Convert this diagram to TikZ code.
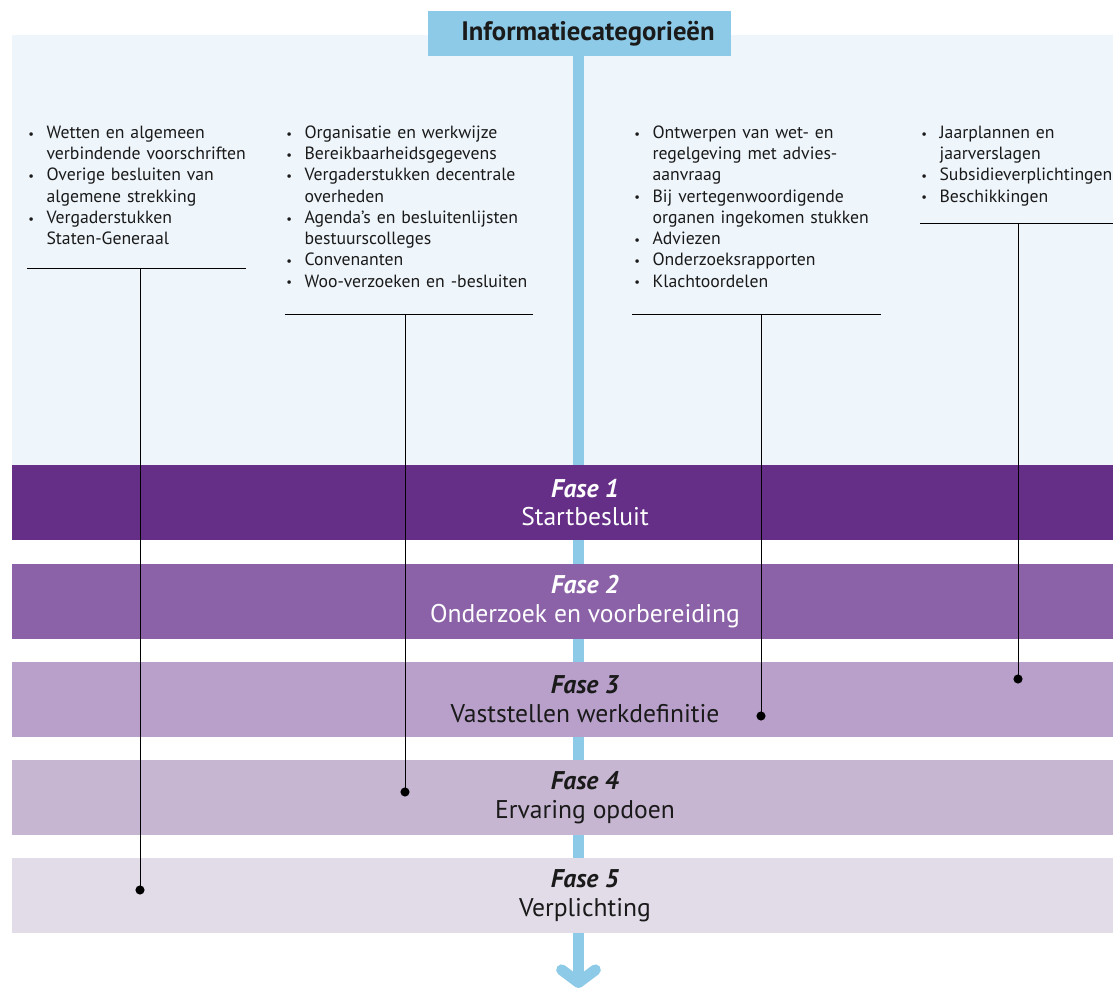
\documentclass[tikz,border=0pt]{standalone}
\usepackage{fontspec}
\setmainfont{PT Sans}
\usetikzlibrary{arrows.meta, positioning}
\definecolor{bglicht}{HTML}{EEF5FB}
\definecolor{infoblauw}{HTML}{8DCAE7}
\definecolor{faseA}{HTML}{652E87}
\definecolor{faseB}{HTML}{8B62A8}
\definecolor{faseC}{HTML}{B8A0CB}
\definecolor{faseD}{HTML}{C6B6D1}
\definecolor{faseE}{HTML}{E2DBE8}
\definecolor{tekst}{HTML}{1A1A1A}
\tikzstyle{titel} = [rectangle, minimum width=7.575cm, minimum height=1.125cm, inner sep=0pt, fill=infoblauw, text=tekst, font=\bfseries\fontsize{19}{22}\selectfont]
\tikzstyle{band} = [rectangle, minimum width=27.525cm, minimum height=1.875cm, inner sep=0pt]
\tikzstyle{fasetekst} = [align=center, inner sep=0pt, font=\fontsize{18.2}{20.5}\selectfont]
\tikzstyle{lijst} = [anchor=north west, text width=7cm, inner sep=0pt, text=tekst, font=\fontsize{12.6}{15.1}\selectfont\raggedright]
\tikzstyle{stip} = [circle, fill=black, inner sep=0pt, minimum size=6.5pt]
\tikzstyle{regel} = [line width=0.7pt, black]
\tikzstyle{pijl} = [line width=7.8pt, infoblauw, -{Straight Barb[length=9pt, width=24pt, round]}]
\newcommand{\itm}{\par\hangindent=13pt\hangafter=1\noindent\makebox[13pt][l]{\raisebox{0.05ex}{\small\textbullet}}}
\newcommand{\fase}[1]{\textbf{\textit{Fase #1}}}

\begin{document}
\begin{tikzpicture}[x=0.025cm, y=-0.025cm]
\useasboundingbox (0,0) rectangle (1113,990);

% achtergrond informatiecategorieen
\fill[bglicht] (12,35) rectangle (1113,465);

\node at (579.5,33.5) (titel) [titel] {\hspace*{12pt}Informatiecategorieën};
\coordinate (pijleind) at (578.5,988);
\draw[pijl] (titel.south -| pijleind) -- (pijleind);

% fasen
\node at (562.5,502.5) (band1) [band, fill=faseA] {};
\node at (562.5,601.5) (band2) [band, fill=faseB] {};
\node at (562.5,699.5) (band3) [band, fill=faseC] {};
\node at (562.5,797.5) (band4) [band, fill=faseD] {};
\node at (562.5,895.5) (band5) [band, fill=faseE] {};

\node at (585,502.5) (fase1) [fasetekst, text=white] {\fase{1}\\Startbesluit};
\node at (585,601.5) (fase2) [fasetekst, text=white] {\fase{2}\\Onderzoek en voorbereiding};
\node at (585,699.5) (fase3) [fasetekst, text=tekst] {\fase{3}\\Vaststellen werkdefinitie};
\node at (585,797.5) (fase4) [fasetekst, text=tekst] {\fase{4}\\Ervaring opdoen};
\node at (585,895.5) (fase5) [fasetekst, text=tekst] {\fase{5}\\Verplichting};

% lijsten
\node at (28,117) (lijst1) [lijst] {\itm Wetten en algemeen\newline verbindende voorschriften
  \itm Overige besluiten van\newline algemene strekking
  \itm Vergaderstukken\newline Staten-Generaal\par};
\node at (286,117) (lijst2) [lijst] {\itm Organisatie en werkwijze
  \itm Bereikbaarheidsgegevens
  \itm Vergaderstukken decentrale\newline overheden
  \itm Agenda’s en besluitenlijsten\newline bestuurscolleges
  \itm Convenanten
  \itm Woo-verzoeken en -besluiten\par};
\node at (634,117) (lijst3) [lijst] {\itm Ontwerpen van wet- en\newline regelgeving met advies-\newline aanvraag
  \itm Bij vertegenwoordigende\newline organen ingekomen stukken
  \itm Adviezen
  \itm Onderzoeksrapporten
  \itm Klachtoordelen\par};
\node at (921,117) (lijst4) [lijst] {\itm Jaarplannen en\newline jaarverslagen
  \itm Subsidieverplichtingen
  \itm Beschikkingen\par};

% regels en verbindingen
\draw[regel] (27,268) -- (246,268);
\draw[regel] (285,314) -- (533,314);
\draw[regel] (632,314) -- (881,314);
\draw[regel] (920,223) -- (1113,223);
\coordinate (r1) at (140,268);
\coordinate (r2) at (405,314);
\coordinate (r3) at (761,314);
\coordinate (r4) at (1018,223);

\node at (140,890) (stip1) [stip] {};
\node at (405,792) (stip2) [stip] {};
\node at (761,716) (stip3) [stip] {};
\node at (1018,679) (stip4) [stip] {};

\draw[regel] (r1) -- (stip1.center);
\draw[regel] (r2) -- (stip2.center);
\draw[regel] (r3) -- (stip3.center);
\draw[regel] (r4) -- (stip4.center);

\end{tikzpicture}
\end{document}
